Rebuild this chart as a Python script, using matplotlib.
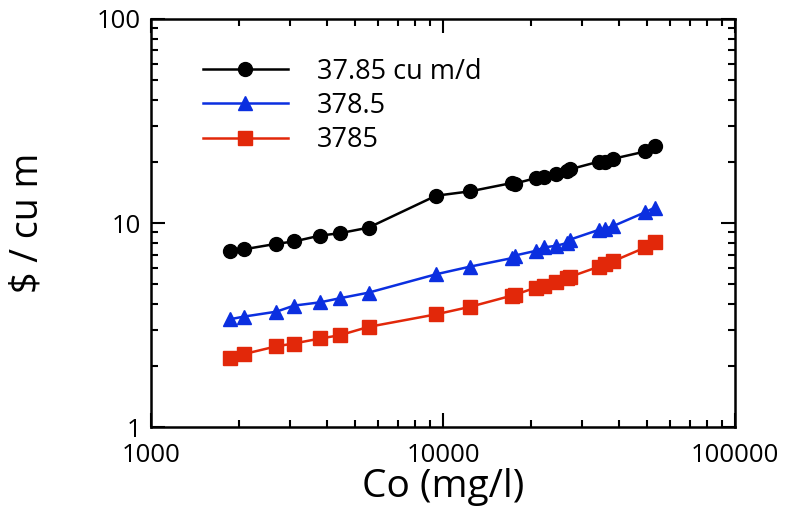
import numpy as np
import matplotlib.pyplot as plt
from matplotlib.ticker import LogLocator, NullFormatter, FixedFormatter, FixedLocator

# concentration Co (mg/l), same for all three flows
co = [1870, 2080, 2690, 3090, 3800, 4430, 5560, 9460, 12400, 17200, 17600,
      20800, 22100, 24400, 26500, 27100, 34200, 35800, 38000, 49200, 53000]

cost_3785 = [7.29, 7.43, 7.91, 8.12, 8.68, 8.91, 9.49, 13.6, 14.3, 15.7, 15.6,
             16.6, 16.8, 17.3, 17.9, 18.3, 20.0, 19.9, 20.6, 22.4, 23.9]
cost_378 = [3.38, 3.48, 3.68, 3.94, 4.09, 4.28, 4.56, 5.61, 6.12, 6.73, 6.93,
            7.31, 7.59, 7.74, 7.97, 8.28, 9.27, 9.38, 9.63, 11.3, 11.9]
cost_37 = [2.19, 2.28, 2.49, 2.57, 2.72, 2.82, 3.10, 3.57, 3.89, 4.41, 4.45,
           4.83, 4.94, 5.13, 5.36, 5.44, 6.12, 6.30, 6.48, 7.59, 8.07]

labels = ["37.85 cu m/d", "378.5", "3785"]
xticks = [1000, 10000, 100000]
yticks = [1, 10, 100]

plt.rcParams['font.family'] = ['Open Sans', 'DejaVu Sans']

fig = plt.figure(figsize=(7.89, 5.08), dpi=100)
ax = fig.add_axes([0.191, 0.159, 0.741, 0.804])

ax.plot(co, cost_3785, '-o', color='black', lw=1.8, ms=10, label=labels[0])
ax.plot(co, cost_378, '-^', color='#0b2fe0', lw=1.8, ms=10, label=labels[1])
ax.plot(co, cost_37, '-s', color='#e2280a', lw=1.8, ms=10, label=labels[2])

ax.set_xscale('log')
ax.set_yscale('log')
ax.set_xlim(1000, 100000)
ax.set_ylim(1, 100)

ax.xaxis.set_major_locator(FixedLocator(xticks))
ax.xaxis.set_major_formatter(FixedFormatter([str(t) for t in xticks]))
ax.yaxis.set_major_locator(FixedLocator(yticks))
ax.yaxis.set_major_formatter(FixedFormatter([str(t) for t in yticks]))
ax.xaxis.set_minor_locator(LogLocator(base=10, subs=np.arange(2, 10)))
ax.yaxis.set_minor_locator(LogLocator(base=10, subs=np.arange(2, 10)))
ax.xaxis.set_minor_formatter(NullFormatter())
ax.yaxis.set_minor_formatter(NullFormatter())

ax.tick_params(which='both', direction='in', top=True, right=True, width=1.5, labelsize=18.5)
ax.tick_params(which='major', length=10)
ax.tick_params(which='minor', length=5)
ax.tick_params(axis='x', which='major', pad=11)
ax.tick_params(axis='y', which='major', pad=7)
for s in ax.spines.values():
    s.set_linewidth(1.8)

ax.set_xlabel("Co (mg/l)", fontsize=28, labelpad=0)
ax.set_ylabel(r"\$ / cu m", fontsize=27, labelpad=36)

ax.legend(loc='upper left', bbox_to_anchor=(0.089, 0.905), frameon=False, fontsize=19.5,
          borderpad=0, borderaxespad=0, handlelength=3.13, handletextpad=1.1,
          labelspacing=0.23)

fig.savefig("out.png", dpi=100)
